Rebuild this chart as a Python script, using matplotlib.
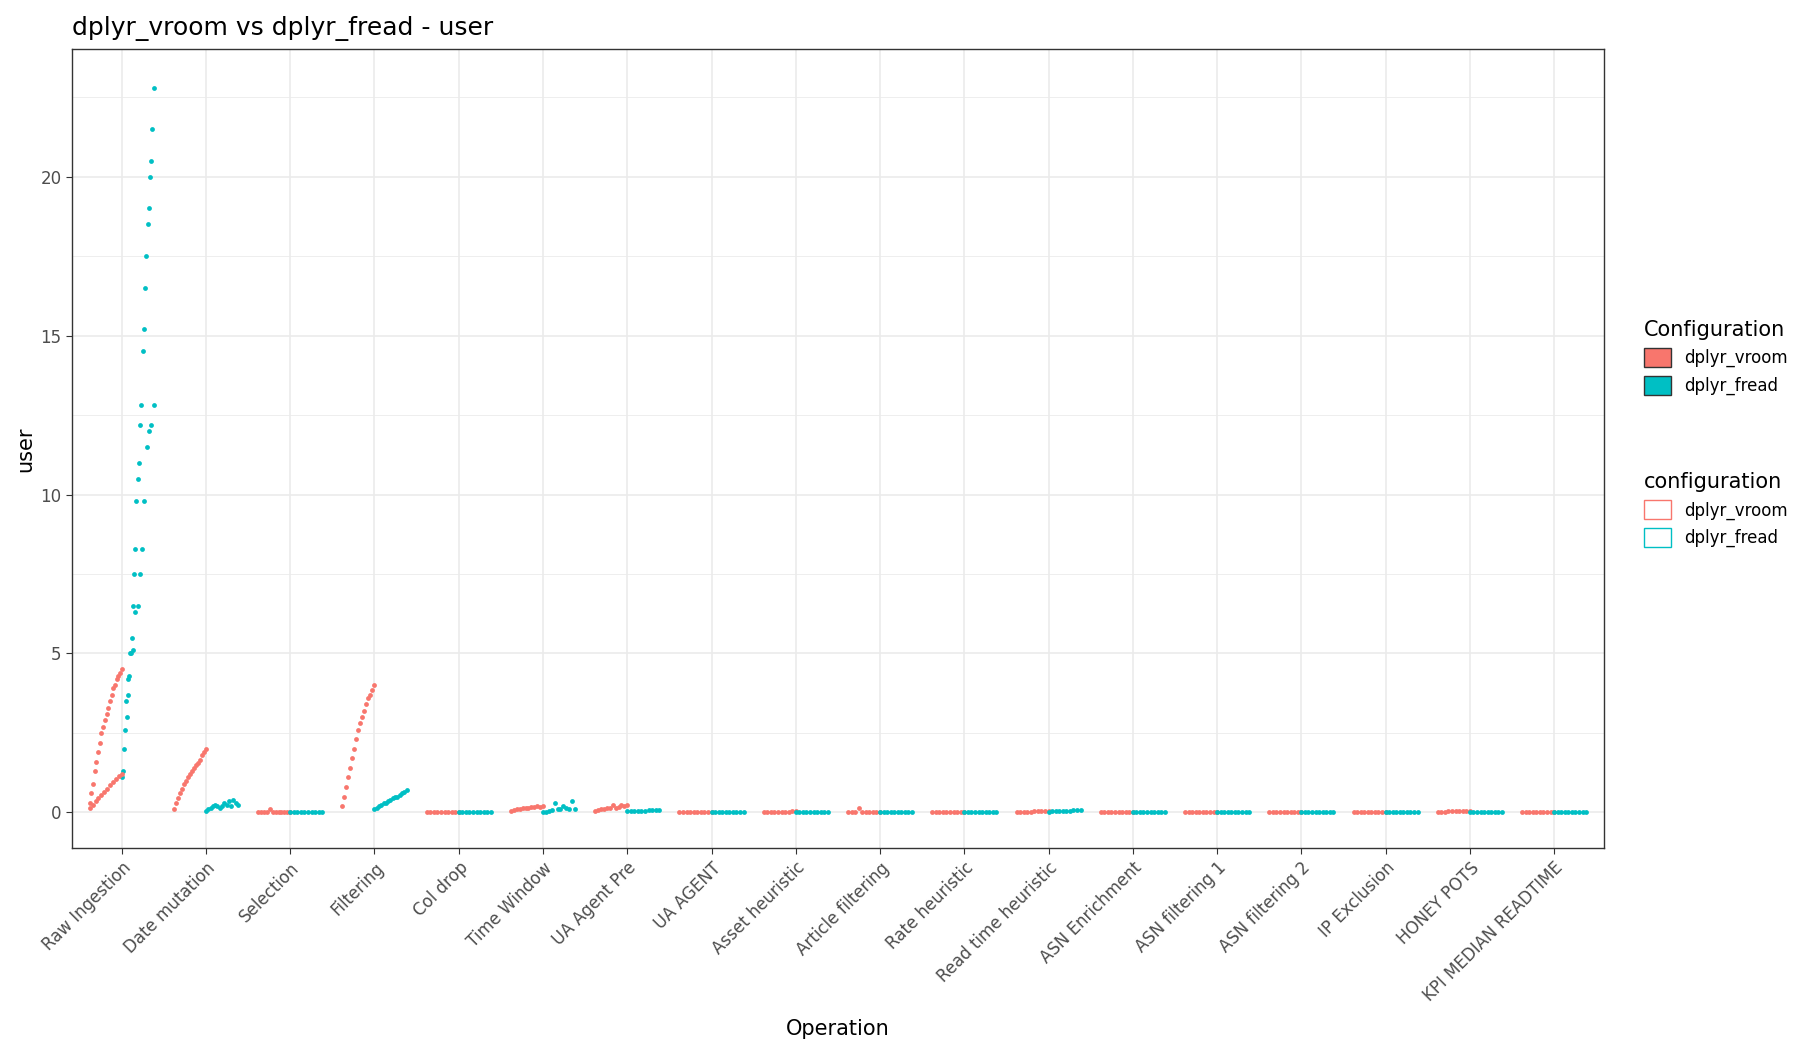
import numpy as np
import matplotlib.pyplot as plt
from matplotlib.patches import Patch

operations = ["Raw Ingestion", "Date mutation", "Selection", "Filtering", "Col drop",
              "Time Window", "UA Agent Pre", "UA AGENT", "Asset heuristic",
              "Article filtering", "Rate heuristic", "Read time heuristic",
              "ASN Enrichment", "ASN filtering 1", "ASN filtering 2", "IP Exclusion",
              "HONEY POTS", "KPI MEDIAN READTIME"]

# sorted run values (user seconds) per operation
vroom_user = [
    [0.3, 0.6, 0.9, 1.3, 1.6, 1.9, 2.2, 2.5, 2.7, 2.9, 3.1, 3.3, 3.5, 3.7, 3.9, 4.0, 4.2, 4.3, 4.4, 4.5],
    [0.1, 0.3, 0.45, 0.6, 0.75, 0.9, 1.0, 1.1, 1.2, 1.3, 1.4, 1.5, 1.55, 1.65, 1.8, 1.9, 2.0],
    [0.0, 0.0, 0.0, 0.01, 0.12, 0.0, 0.0, 0.0, 0.0, 0.0, 0.01, 0.0],
    [0.2, 0.5, 0.8, 1.1, 1.4, 1.7, 2.0, 2.3, 2.6, 2.8, 3.0, 3.2, 3.4, 3.6, 3.7, 3.85, 4.0],
    [0.0, 0.0, 0.0, 0.0, 0.0, 0.0, 0.0, 0.0, 0.0, 0.0],
    [0.05, 0.08, 0.1, 0.12, 0.13, 0.15, 0.15, 0.17, 0.18, 0.2, 0.18, 0.2],
    [0.05, 0.08, 0.1, 0.12, 0.13, 0.15, 0.25, 0.15, 0.18, 0.25, 0.2, 0.22],
    [0.0, 0.0, 0.0, 0.0, 0.0, 0.0, 0.0, 0.0, 0.0, 0.0],
    [0.01, 0.02, 0.02, 0.02, 0.03, 0.03, 0.03, 0.03, 0.04, 0.04],
    [0.01, 0.01, 0.02, 0.15, 0.02, 0.02, 0.02, 0.03, 0.03, 0.03],
    [0.01, 0.01, 0.02, 0.02, 0.02, 0.02, 0.02, 0.03, 0.03, 0.03],
    [0.02, 0.02, 0.03, 0.03, 0.03, 0.04, 0.04, 0.04, 0.05, 0.05],
    [0.01, 0.01, 0.02, 0.02, 0.02, 0.02, 0.02, 0.03, 0.03, 0.03],
    [0.01, 0.01, 0.02, 0.02, 0.02, 0.02, 0.02, 0.03, 0.03, 0.03],
    [0.01, 0.01, 0.02, 0.02, 0.02, 0.02, 0.02, 0.03, 0.03, 0.03],
    [0.0, 0.0, 0.01, 0.01, 0.01, 0.01, 0.01, 0.02, 0.02, 0.02],
    [0.02, 0.03, 0.03, 0.04, 0.04, 0.05, 0.05, 0.05, 0.06, 0.06],
    [0.0, 0.0, 0.0, 0.01, 0.01, 0.01, 0.01, 0.01, 0.01, 0.01],
]
raw_vroom_low = [0.15, 0.25, 0.35, 0.45, 0.55, 0.65, 0.75, 0.85, 0.95, 1.05, 1.15, 1.2]

fread_user = [
    [1.1, 1.3, 2.0, 2.6, 3.0, 3.7, 4.3, 5.0, 5.5, 6.5, 7.5, 8.3, 9.8, 10.5, 11.0, 12.2, 12.8,
     14.5, 15.2, 16.5, 17.5, 18.5, 19.0, 20.0, 20.5, 21.5, 22.8],
    [0.05, 0.1, 0.15, 0.2, 0.25, 0.2, 0.15, 0.2, 0.3, 0.25, 0.35, 0.2, 0.4, 0.3, 0.25],
    [0.0, 0.0, 0.0, 0.0, 0.0, 0.0, 0.0, 0.0, 0.0, 0.0],
    [0.1, 0.15, 0.2, 0.25, 0.3, 0.3, 0.35, 0.4, 0.45, 0.5, 0.5, 0.55, 0.6, 0.65, 0.7],
    [0.0, 0.0, 0.0, 0.0, 0.0, 0.0, 0.0, 0.0, 0.0, 0.0],
    [0.0, 0.02, 0.05, 0.08, 0.3, 0.1, 0.12, 0.2, 0.15, 0.1, 0.35, 0.1],
    [0.04, 0.05, 0.05, 0.06, 0.06, 0.06, 0.07, 0.07, 0.07, 0.08],
    [0.0, 0.0, 0.0, 0.0, 0.0, 0.0, 0.0, 0.0, 0.0, 0.0],
    [0.01, 0.01, 0.02, 0.02, 0.02, 0.02, 0.02, 0.03, 0.03, 0.03],
    [0.0, 0.01, 0.01, 0.01, 0.01, 0.01, 0.02, 0.02, 0.02, 0.02],
    [0.01, 0.01, 0.02, 0.02, 0.02, 0.02, 0.02, 0.03, 0.03, 0.03],
    [0.03, 0.04, 0.04, 0.05, 0.05, 0.06, 0.06, 0.07, 0.08, 0.08],
    [0.01, 0.01, 0.02, 0.02, 0.02, 0.02, 0.02, 0.03, 0.03, 0.03],
    [0.01, 0.01, 0.02, 0.02, 0.02, 0.02, 0.02, 0.03, 0.03, 0.03],
    [0.01, 0.01, 0.02, 0.02, 0.02, 0.02, 0.02, 0.03, 0.03, 0.03],
    [0.0, 0.0, 0.01, 0.01, 0.01, 0.01, 0.01, 0.01, 0.01, 0.01],
    [0.0, 0.01, 0.01, 0.01, 0.01, 0.01, 0.02, 0.02, 0.02, 0.02],
    [0.0, 0.0, 0.01, 0.01, 0.01, 0.01, 0.01, 0.01, 0.01, 0.01],
]
raw_fread_scatter = [3.5, 4.2, 5.0, 5.1, 6.3, 6.5, 7.5, 8.3, 9.8, 11.5, 12.0, 12.2, 12.8]

RED, TEAL = "#F8766D", "#00BFC4"
PT = 12

fig = plt.figure(figsize=(18, 10.5), dpi=100)
ax = fig.add_axes([0.04, 0.192, 0.851, 0.761])
ax.set_facecolor("white")

x = np.arange(1, len(operations) + 1)
for i, xi in enumerate(x):
    v = vroom_user[i]
    ax.scatter(np.linspace(xi - 0.38, xi, len(v)), v, s=PT, color=RED, zorder=3, lw=0)
    f = fread_user[i]
    ax.scatter(np.linspace(xi, xi + 0.38, len(f)), f, s=PT, color=TEAL, zorder=3, lw=0)
ax.scatter(np.linspace(x[0] - 0.38, x[0], len(raw_vroom_low)), raw_vroom_low,
           s=PT, color=RED, zorder=3, lw=0)
ax.scatter(np.linspace(x[0] + 0.05, x[0] + 0.38, len(raw_fread_scatter)), raw_fread_scatter,
           s=PT, color=TEAL, zorder=3, lw=0)

ax.set_xlim(0.41, 18.59)
ax.set_ylim(-1.13, 24)
ax.set_xticks(x)
ax.set_xticklabels(operations, rotation=45, ha="right", rotation_mode="anchor",
                   fontsize=12, color="#4D4D4D")
ax.set_yticks([0, 5, 10, 15, 20])
ax.set_yticks([2.5, 7.5, 12.5, 17.5, 22.5], minor=True)
ax.tick_params(axis="y", labelsize=12, labelcolor="#4D4D4D", color="#333333", length=4)
ax.tick_params(axis="x", color="#333333", length=4)
ax.tick_params(which="minor", length=0)
ax.grid(True, which="major", color="#EBEBEB", lw=1.2)
ax.grid(True, which="minor", color="#EBEBEB", lw=0.6)
ax.set_axisbelow(True)
for s in ax.spines.values():
    s.set_color("#333333")
    s.set_linewidth(1)
ax.set_xlabel("Operation", fontsize=15, labelpad=10)
ax.set_ylabel("user", fontsize=15)
ax.set_title("dplyr_vroom vs dplyr_fread - user", fontsize=18, loc="left", x=0.0, pad=10)

filled = [Patch(facecolor=RED, edgecolor="#333333", label="dplyr_vroom"),
          Patch(facecolor=TEAL, edgecolor="#333333", label="dplyr_fread")]
outline = [Patch(facecolor="white", edgecolor=RED, label="dplyr_vroom"),
           Patch(facecolor="white", edgecolor=TEAL, label="dplyr_fread")]
fig.legend(handles=filled, title="Configuration", loc="upper left",
           bbox_to_anchor=(0.905, 0.71), frameon=False, fontsize=12,
           title_fontsize=15, alignment="left", handlelength=1.6, handleheight=1.4)
fig.legend(handles=outline, title="configuration", loc="upper left",
           bbox_to_anchor=(0.905, 0.565), frameon=False, fontsize=12,
           title_fontsize=15, alignment="left", handlelength=1.6, handleheight=1.4)

fig.savefig("out.png", dpi=100)
